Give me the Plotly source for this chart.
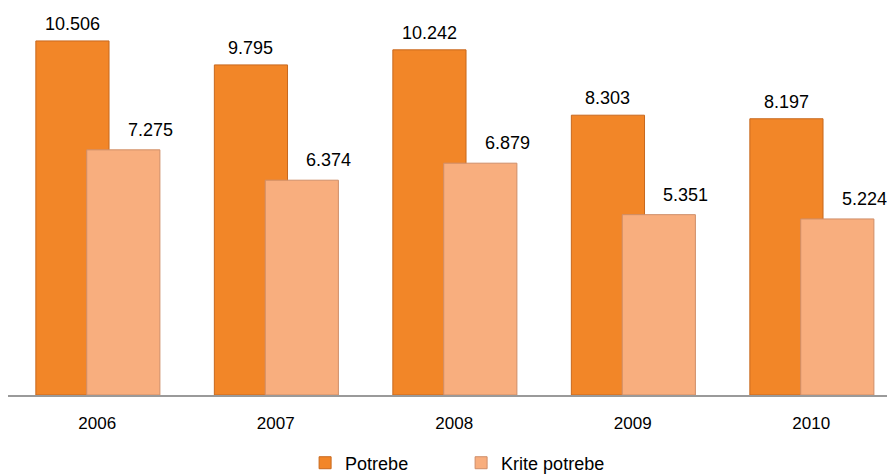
import plotly.graph_objects as go

years = ["2006", "2007", "2008", "2009", "2010"]
potrebe = [10.506, 9.795, 10.242, 8.303, 8.197]
krite = [7.275, 6.374, 6.879, 5.351, 5.224]
potrebe_labels = ["10.506", "9.795", "10.242", "8.303", "8.197"]
krite_labels = ["7.275", "6.374", "6.879", "5.351", "5.224"]

W, H = 887, 490
left = 8
axis_y = 395
spacing = 178.5
ppu = 33.7
plot_w = W - left

FONT = "Liberation Sans, Arial"

fig = go.Figure()
bw = 0.41
off_p, off_k = -0.344, -0.059
fig.add_trace(go.Bar(
    x=years, y=potrebe, name="Potrebe", width=bw, offset=off_p,
    marker=dict(color="#F28628", line=dict(color="#C8681E", width=1)),
    hoverinfo="skip",
))
fig.add_trace(go.Bar(
    x=years, y=krite, name="Krite potrebe", width=bw, offset=off_k,
    marker=dict(color="#F8AE7E", line=dict(color="#CF8E68", width=1)),
    hoverinfo="skip",
))

for i, (v, t) in enumerate(zip(potrebe, potrebe_labels)):
    fig.add_annotation(x=i, y=v, text=t, showarrow=False, yanchor="bottom",
                       xref="x", yref="y",
                       xshift=(off_p + bw / 2) * spacing, yshift=5,
                       font=dict(family=FONT, size=18, color="#000000"))
for i, (v, t) in enumerate(zip(krite, krite_labels)):
    fig.add_annotation(x=i, y=v, text=t, showarrow=False, yanchor="bottom",
                       xref="x", yref="y",
                       xshift=(off_k + bw / 2) * spacing + 27, yshift=8,
                       font=dict(family=FONT, size=18, color="#000000"))

xmax = -0.5 + plot_w / spacing
fig.update_layout(
    width=W, height=H,
    barmode="overlay",
    paper_bgcolor="white", plot_bgcolor="white",
    margin=dict(l=left, r=0, t=0, b=H - axis_y, pad=0),
    xaxis=dict(range=[-0.5, xmax], type="category", showgrid=False,
               showline=True, linecolor="#9A9A9A", linewidth=1.5,
               ticks="", tickfont=dict(family=FONT, size=17, color="#000000"),
               ticklabelstandoff=12),
    yaxis=dict(range=[0, axis_y / ppu], showgrid=False, showticklabels=False,
               zeroline=False, showline=False),
    legend=dict(orientation="h", x=0.338, xanchor="left", y=-0.1722, yanchor="middle",
                font=dict(family=FONT, size=18, color="#000000"),
                itemwidth=30, entrywidth=111, bgcolor="rgba(0,0,0,0)"),
    showlegend=True,
)
fig.write_html("out.html",
               config={"displayModeBar": False},
               post_script="document.body.style.margin='0';document.body.style.overflow='hidden';")
